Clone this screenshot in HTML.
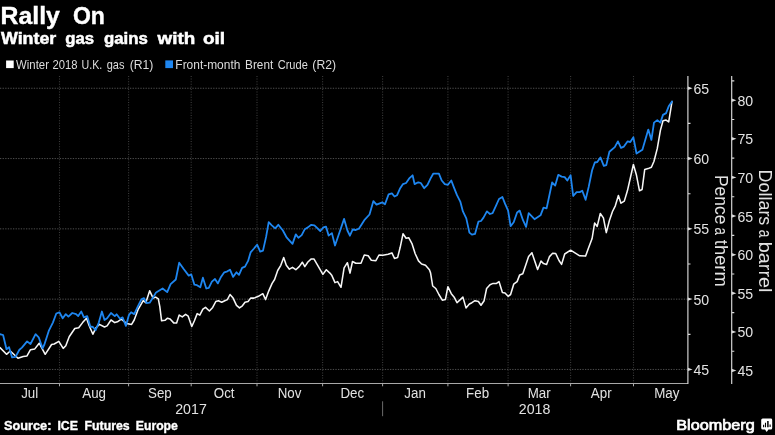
<!DOCTYPE html>
<html><head><meta charset="utf-8"><title>Rally On</title>
<style>html,body{margin:0;padding:0;background:#000;}body{width:775px;height:435px;overflow:hidden;}svg{will-change:transform;}</style></head>
<body>
<svg width="775" height="435" viewBox="0 0 775 435" style="display:block;font-family:'Liberation Sans',sans-serif">
<rect width="775" height="435" fill="#000"/>
<g>
<path d="M0,88.25 H687.9 M0,158.55 H687.9 M0,228.85 H687.9 M0,299.15 H687.9 M0,369.45 H687.9" stroke="#4e4e4e" stroke-width="1" stroke-dasharray="1.3 1.3" fill="none"/>
<path d="M59.5,76 V383.5 M128.6,76 V383.5 M191.2,76 V383.5 M257,76 V383.5 M322.6,76 V383.5 M382.6,76 V383.5 M447.9,76 V383.5 M508.1,76 V383.5 M570.6,76 V383.5 M633.5,76 V383.5" stroke="#3c3c3c" stroke-width="1.1" stroke-dasharray="1 1.6" fill="none"/>
<path d="M0,383.5 H687.9 M59.5,383.5 V386.3 M128.6,383.5 V386.3 M191.2,383.5 V386.3 M257,383.5 V386.3 M322.6,383.5 V386.3 M382.6,383.5 V386.3 M447.9,383.5 V386.3 M508.1,383.5 V386.3 M570.6,383.5 V386.3 M633.5,383.5 V386.3" stroke="#a8a8a8" stroke-width="1" fill="none"/>
<path d="M382.6,401.3 V416.2" stroke="#6a6a6a" stroke-width="1" fill="none"/>
<path d="M687.9,76 V384.0 M731.7,76 V384.0 M687.9,334.3 h2.6 M687.9,264.0 h2.6 M687.9,193.7 h2.6 M687.9,123.4 h2.6 M731.7,351.2 h2.6 M731.7,312.6 h2.6 M731.7,274.0 h2.6 M731.7,235.3 h2.6 M731.7,196.7 h2.6 M731.7,158.1 h2.6 M731.7,119.5 h2.6 M731.7,80.9 h2.6" stroke="#dadada" stroke-width="1.15" fill="none"/>
<text x="693.4" y="374.9" font-size="14.8" fill="#e2e2e2" textLength="15.7" lengthAdjust="spacingAndGlyphs">45</text>
<text x="693.4" y="304.6" font-size="14.8" fill="#e2e2e2" textLength="15.7" lengthAdjust="spacingAndGlyphs">50</text>
<text x="693.4" y="234.3" font-size="14.8" fill="#e2e2e2" textLength="15.7" lengthAdjust="spacingAndGlyphs">55</text>
<text x="693.4" y="164.0" font-size="14.8" fill="#e2e2e2" textLength="15.7" lengthAdjust="spacingAndGlyphs">60</text>
<text x="693.4" y="93.8" font-size="14.8" fill="#e2e2e2" textLength="15.7" lengthAdjust="spacingAndGlyphs">65</text>
<text x="737.4" y="376.0" font-size="14.8" fill="#e2e2e2" textLength="15.7" lengthAdjust="spacingAndGlyphs">45</text>
<text x="737.4" y="337.4" font-size="14.8" fill="#e2e2e2" textLength="15.7" lengthAdjust="spacingAndGlyphs">50</text>
<text x="737.4" y="298.8" font-size="14.8" fill="#e2e2e2" textLength="15.7" lengthAdjust="spacingAndGlyphs">55</text>
<text x="737.4" y="260.2" font-size="14.8" fill="#e2e2e2" textLength="15.7" lengthAdjust="spacingAndGlyphs">60</text>
<text x="737.4" y="221.5" font-size="14.8" fill="#e2e2e2" textLength="15.7" lengthAdjust="spacingAndGlyphs">65</text>
<text x="737.4" y="182.9" font-size="14.8" fill="#e2e2e2" textLength="15.7" lengthAdjust="spacingAndGlyphs">70</text>
<text x="737.4" y="144.3" font-size="14.8" fill="#e2e2e2" textLength="15.7" lengthAdjust="spacingAndGlyphs">75</text>
<text x="737.4" y="105.7" font-size="14.8" fill="#e2e2e2" textLength="15.7" lengthAdjust="spacingAndGlyphs">80</text>
<path d="M687.9,367.8 L692.6,369.4 L687.9,371.1Z M687.9,297.4 L692.6,299.1 L687.9,300.8Z M687.9,227.2 L692.6,228.8 L687.9,230.5Z M687.9,156.8 L692.6,158.5 L687.9,160.2Z M687.9,86.5 L692.6,88.2 L687.9,90.0Z M731.7,368.8 L736.4000000000001,370.5 L731.7,372.2Z M731.7,330.2 L736.4000000000001,331.9 L731.7,333.6Z M731.7,291.6 L736.4000000000001,293.3 L731.7,295.0Z M731.7,253.0 L736.4000000000001,254.7 L731.7,256.4Z M731.7,214.3 L736.4000000000001,216.0 L731.7,217.7Z M731.7,175.7 L736.4000000000001,177.4 L731.7,179.1Z M731.7,137.1 L736.4000000000001,138.8 L731.7,140.5Z M731.7,98.5 L736.4000000000001,100.2 L731.7,101.9Z" fill="#dadada"/>
<path d="M0.0,347.6 L6.5,354.3 L10.3,351.0 L18.0,358.2 L23.2,356.4 L27.0,355.9 L30.5,349.7 L34.8,348.9 L39.2,343.2 L45.2,354.3 L51.6,344.5 L54.2,344.0 L58.8,341.4 L63.2,348.4 L65.8,345.8 L69.2,336.8 L74.8,328.5 L78.7,327.7 L82.6,322.6 L86.5,318.2 L89.0,325.2 L92.9,334.2 L96.0,327.7 L99.4,324.4 L104.5,327.0 L107.1,325.9 L111.0,320.0 L114.8,322.6 L117.4,321.8 L121.3,319.2 L126.5,323.4 L131.6,324.4 L134.2,320.0 L138.0,309.7 L143.2,300.6 L145.8,302.7 L149.7,290.8 L153.1,298.1 L155.7,297.1 L158.3,298.9 L159.8,306.6 L161.6,320.8 L165.0,320.3 L167.5,318.2 L170.1,319.0 L173.7,322.9 L176.6,322.9 L179.2,315.1 L182.3,316.9 L185.6,314.4 L188.2,316.2 L191.8,326.5 L194.4,320.8 L197.2,313.6 L199.8,315.1 L202.9,309.2 L205.5,307.4 L209.4,311.0 L212.7,307.4 L215.8,301.5 L218.4,300.7 L221.7,302.2 L224.8,300.7 L227.4,299.6 L230.0,294.5 L233.1,298.1 L236.5,305.3 L239.5,307.9 L242.4,305.8 L245.0,302.2 L248.1,301.5 L250.6,298.1 L254.0,298.1 L258.4,296.3 L262.8,293.7 L265.6,299.6 L268.7,291.1 L272.1,283.4 L274.6,279.5 L277.7,270.5 L280.8,265.3 L283.7,257.6 L286.3,265.3 L289.4,269.2 L292.5,267.4 L295.8,269.7 L299.2,266.6 L302.3,262.2 L304.8,266.6 L307.9,262.0 L311.3,258.9 L313.9,258.9 L317.7,265.3 L322.9,274.4 L326.3,269.7 L329.9,273.1 L331.9,275.6 L335.0,282.6 L337.6,281.6 L341.0,287.3 L344.1,267.9 L347.4,262.7 L350.0,273.1 L352.5,261.5 L355.8,263.3 L361.0,263.3 L364.3,255.0 L368.2,255.8 L371.3,260.2 L375.9,260.7 L379.0,255.0 L382.9,255.3 L388.1,254.2 L391.9,252.9 L394.5,258.4 L397.6,257.6 L400.2,247.3 L403.0,233.8 L406.1,238.2 L408.7,237.7 L412.1,243.9 L415.2,253.7 L418.5,260.9 L421.6,264.0 L425.5,265.3 L429.4,269.7 L430.6,273.1 L432.7,286.0 L435.8,288.5 L438.9,294.5 L442.3,300.2 L445.4,299.6 L447.9,286.7 L451.3,293.7 L454.4,297.6 L457.0,302.7 L460.3,299.6 L462.9,297.1 L466.0,307.9 L469.4,304.0 L471.9,302.7 L475.0,300.7 L478.4,301.5 L481.0,305.3 L484.1,300.7 L486.6,288.5 L490.0,284.7 L493.1,283.4 L496.5,283.4 L499.0,281.6 L502.4,292.4 L505.0,292.9 L508.1,296.3 L510.6,294.5 L513.7,284.2 L517.1,281.6 L519.7,274.9 L522.8,273.8 L526.1,264.0 L528.6,256.6 L531.9,252.7 L537.6,269.5 L541.0,261.0 L543.5,263.6 L546.6,264.4 L549.5,256.6 L552.6,253.3 L555.7,253.5 L559.0,260.5 L561.6,264.4 L564.7,254.0 L570.6,250.2 L579.7,255.8 L585.6,256.1 L588.7,247.6 L592.1,238.5 L594.6,223.1 L597.2,226.4 L600.3,213.5 L603.4,217.9 L606.3,232.6 L609.4,220.5 L612.5,211.5 L615.3,205.8 L618.4,195.5 L621.0,203.2 L624.3,201.1 L627.4,190.8 L633.4,164.5 L636.5,175.3 L639.5,190.8 L642.1,189.5 L644.7,169.6 L648.1,168.6 L651.4,167.2 L654.0,161.3 L657.3,148.4 L660.4,130.4 L663.0,120.8 L666.1,120.1 L668.7,121.9 L672.0,101.5" stroke="#f6f6f6" stroke-width="1.55" fill="none" stroke-linejoin="round" stroke-linecap="round"/>
<path d="M0.0,334.2 L3.1,335.0 L6.5,349.2 L9.0,347.1 L12.1,357.4 L15.5,356.9 L19.4,349.7 L21.9,347.6 L27.1,341.4 L30.5,344.0 L35.6,334.2 L38.7,337.3 L42.6,348.4 L44.4,344.5 L49.0,330.3 L52.9,322.6 L56.3,313.5 L59.4,312.3 L62.7,318.2 L65.8,314.1 L68.4,316.6 L72.3,313.0 L76.1,314.1 L78.2,316.1 L81.3,311.5 L83.9,317.4 L87.2,316.1 L90.3,326.5 L92.9,327.0 L95.5,330.3 L98.8,322.6 L101.9,311.5 L104.5,320.0 L107.1,318.2 L111.0,313.0 L114.8,316.1 L116.6,314.3 L120.0,318.7 L122.6,317.4 L125.9,325.9 L129.0,314.8 L131.1,312.3 L134.2,314.1 L138.1,305.8 L141.4,299.4 L144.0,298.1 L146.6,303.2 L149.7,302.7 L153.5,296.8 L156.1,292.4 L162.6,288.5 L167.2,292.1 L170.6,284.2 L175.8,279.5 L179.2,262.7 L183.5,268.7 L188.7,275.6 L191.3,274.4 L194.4,284.7 L197.0,285.2 L200.3,287.3 L202.9,277.7 L206.3,288.5 L208.8,287.8 L211.9,281.6 L215.0,279.0 L217.9,283.4 L221.0,276.9 L224.3,272.3 L227.4,271.3 L230.0,269.7 L233.1,276.9 L236.5,272.3 L239.0,274.9 L242.1,267.9 L245.0,266.6 L248.1,260.9 L250.6,252.4 L254.0,248.5 L257.1,244.7 L260.2,251.6 L263.0,250.6 L266.1,236.9 L268.7,222.2 L271.8,225.3 L275.2,228.4 L278.3,224.8 L282.9,230.5 L286.8,237.7 L292.5,243.9 L295.8,234.4 L298.4,237.7 L301.7,235.1 L304.8,229.2 L307.9,227.4 L311.3,224.8 L314.4,225.3 L320.3,231.0 L323.4,227.4 L326.0,226.6 L328.6,235.6 L331.9,233.1 L335.0,245.5 L339.7,231.8 L344.1,218.9 L347.4,230.5 L349.9,235.7 L352.7,229.5 L355.8,230.0 L358.9,228.7 L364.3,220.2 L369.5,214.5 L373.4,201.1 L376.5,204.7 L382.4,202.4 L385.0,204.2 L388.6,194.4 L391.9,193.4 L394.5,196.5 L397.1,195.2 L400.2,188.2 L403.0,184.1 L406.1,183.0 L409.2,178.4 L412.6,175.3 L414.6,184.1 L418.3,182.3 L420.8,183.0 L424.2,188.2 L427.5,184.8 L430.6,178.4 L433.2,173.7 L438.9,173.7 L441.7,180.5 L444.8,184.1 L447.9,184.8 L451.3,180.5 L453.9,187.4 L457.0,195.2 L460.3,201.6 L462.9,211.4 L466.3,218.4 L469.4,232.6 L471.9,234.6 L475.0,233.9 L478.4,221.7 L481.0,221.0 L483.5,217.6 L486.9,211.4 L490.0,214.0 L492.6,213.2 L495.7,206.3 L499.0,199.0 L502.4,197.0 L505.0,203.7 L508.1,210.6 L510.6,226.1 L513.7,222.3 L517.1,212.5 L519.7,210.6 L523.0,220.2 L526.1,226.9 L528.7,213.2 L534.5,219.2 L540.5,215.3 L543.5,207.6 L546.6,208.4 L552.1,182.5 L555.2,185.6 L558.3,174.8 L561.6,176.6 L564.7,177.1 L567.3,180.5 L570.6,175.3 L573.2,196.0 L576.6,192.1 L579.7,192.1 L582.3,190.8 L585.6,199.8 L588.7,186.9 L592.1,170.2 L594.8,162.5 L597.3,162.0 L600.4,157.4 L603.8,165.9 L606.3,165.1 L609.4,151.7 L614.8,147.1 L617.9,141.4 L621.0,147.9 L623.9,146.6 L627.5,141.4 L630.3,142.0 L633.4,137.3 L636.5,153.5 L642.4,149.7 L648.3,129.6 L651.4,139.9 L654.0,122.6 L657.3,120.1 L660.4,122.6 L663.0,114.9 L666.1,113.1 L668.9,105.9 L672.0,101.5" stroke="#1e86f0" stroke-width="1.8" fill="none" stroke-linejoin="round" stroke-linecap="round"/>
<text x="0.6" y="23.5" font-size="23.4" font-weight="bold" fill="#fff" stroke="#fff" stroke-width="0.4" textLength="59.26" lengthAdjust="spacingAndGlyphs">Rally</text>
<text x="72.99" y="23.5" font-size="23.4" font-weight="bold" fill="#fff" stroke="#fff" stroke-width="0.4" textLength="31.9" lengthAdjust="spacingAndGlyphs">On</text>
<text x="0.97" y="43.75" font-size="16.4" font-weight="bold" fill="#fff" stroke="#fff" stroke-width="0.5" textLength="55.3" lengthAdjust="spacingAndGlyphs">Winter</text>
<text x="65.3" y="43.75" font-size="16.4" font-weight="bold" fill="#fff" stroke="#fff" stroke-width="0.5" textLength="28.87" lengthAdjust="spacingAndGlyphs">gas</text>
<text x="103.9" y="43.75" font-size="16.4" font-weight="bold" fill="#fff" stroke="#fff" stroke-width="0.5" textLength="44.0" lengthAdjust="spacingAndGlyphs">gains</text>
<text x="157.63" y="43.75" font-size="16.4" font-weight="bold" fill="#fff" stroke="#fff" stroke-width="0.5" textLength="37.66" lengthAdjust="spacingAndGlyphs">with</text>
<text x="202.9" y="43.75" font-size="16.4" font-weight="bold" fill="#fff" stroke="#fff" stroke-width="0.5" textLength="22.2" lengthAdjust="spacingAndGlyphs">oil</text>
<rect x="6.1" y="60.5" width="7.6" height="7.6" fill="#fff"/>
<text x="16.1" y="68.9" font-size="12.4" fill="#dcdcdc" textLength="32.84" lengthAdjust="spacingAndGlyphs">Winter</text>
<text x="52.6" y="68.9" font-size="12.4" fill="#dcdcdc" textLength="25.0" lengthAdjust="spacingAndGlyphs">2018</text>
<text x="81.55" y="68.9" font-size="12.4" fill="#dcdcdc" textLength="20.8" lengthAdjust="spacingAndGlyphs">U.K.</text>
<text x="106.7" y="68.9" font-size="12.4" fill="#dcdcdc" textLength="17.7" lengthAdjust="spacingAndGlyphs">gas</text>
<text x="129.68" y="68.9" font-size="12.4" fill="#dcdcdc" textLength="23.75" lengthAdjust="spacingAndGlyphs">(R1)</text>
<text x="175.35" y="68.9" font-size="12.4" fill="#dcdcdc" textLength="65.0" lengthAdjust="spacingAndGlyphs">Front-month</text>
<text x="245.1" y="68.9" font-size="12.4" fill="#dcdcdc" textLength="28.1" lengthAdjust="spacingAndGlyphs">Brent</text>
<text x="277.7" y="68.9" font-size="12.4" fill="#dcdcdc" textLength="30.1" lengthAdjust="spacingAndGlyphs">Crude</text>
<text x="312.37" y="68.9" font-size="12.4" fill="#dcdcdc" textLength="23.65" lengthAdjust="spacingAndGlyphs">(R2)</text>
<rect x="165.3" y="60.4" width="7.7" height="7.7" fill="#1e86f0"/>
<text transform="translate(29.7,397.8) scale(0.89,1)" font-size="15" fill="#e2e2e2" text-anchor="middle">Jul</text>
<text transform="translate(94.1,397.8) scale(0.89,1)" font-size="15" fill="#e2e2e2" text-anchor="middle">Aug</text>
<text transform="translate(159.9,397.8) scale(0.89,1)" font-size="15" fill="#e2e2e2" text-anchor="middle">Sep</text>
<text transform="translate(224.2,397.8) scale(0.89,1)" font-size="15" fill="#e2e2e2" text-anchor="middle">Oct</text>
<text transform="translate(289.5,397.8) scale(0.89,1)" font-size="15" fill="#e2e2e2" text-anchor="middle">Nov</text>
<text transform="translate(352.3,397.8) scale(0.89,1)" font-size="15" fill="#e2e2e2" text-anchor="middle">Dec</text>
<text transform="translate(415.1,397.8) scale(0.89,1)" font-size="15" fill="#e2e2e2" text-anchor="middle">Jan</text>
<text transform="translate(477.6,397.8) scale(0.89,1)" font-size="15" fill="#e2e2e2" text-anchor="middle">Feb</text>
<text transform="translate(539.2,397.8) scale(0.89,1)" font-size="15" fill="#e2e2e2" text-anchor="middle">Mar</text>
<text transform="translate(601.2,397.8) scale(0.89,1)" font-size="15" fill="#e2e2e2" text-anchor="middle">Apr</text>
<text transform="translate(666.8,397.8) scale(0.89,1)" font-size="15" fill="#e2e2e2" text-anchor="middle">May</text>
<text transform="translate(191,413.9) scale(0.94,1)" font-size="15.1" fill="#e2e2e2" text-anchor="middle">2017</text>
<text transform="translate(534.6,413.9) scale(0.94,1)" font-size="15.1" fill="#e2e2e2" text-anchor="middle">2018</text>
<text transform="translate(715.3,174.9) rotate(90)" font-size="18" fill="#e2e2e2" textLength="49.67" lengthAdjust="spacingAndGlyphs">Pence</text>
<text transform="translate(715.3,227.5) rotate(90)" font-size="18" fill="#e2e2e2" textLength="7.41" lengthAdjust="spacingAndGlyphs">a</text>
<text transform="translate(715.3,239.8) rotate(90)" font-size="18" fill="#e2e2e2" textLength="47.02" lengthAdjust="spacingAndGlyphs">therm</text>
<text transform="translate(759.3,169.6) rotate(90)" font-size="18" fill="#e2e2e2" textLength="55.73" lengthAdjust="spacingAndGlyphs">Dollars</text>
<text transform="translate(759.3,229.7) rotate(90)" font-size="18" fill="#e2e2e2" textLength="7.7" lengthAdjust="spacingAndGlyphs">a</text>
<text transform="translate(759.3,241.7) rotate(90)" font-size="18" fill="#e2e2e2" textLength="50.85" lengthAdjust="spacingAndGlyphs">barrel</text>
<text x="3.9" y="430.2" font-size="12" font-weight="bold" fill="#fff" stroke="#fff" stroke-width="0.35" textLength="47.5" lengthAdjust="spacingAndGlyphs">Source:</text>
<text x="57.4" y="430.2" font-size="12" font-weight="bold" fill="#fff" stroke="#fff" stroke-width="0.35" textLength="20.5" lengthAdjust="spacingAndGlyphs">ICE</text>
<text x="84.5" y="430.2" font-size="12" font-weight="bold" fill="#fff" stroke="#fff" stroke-width="0.35" textLength="45.15" lengthAdjust="spacingAndGlyphs">Futures</text>
<text x="135.8" y="430.2" font-size="12" font-weight="bold" fill="#fff" stroke="#fff" stroke-width="0.35" textLength="42.09" lengthAdjust="spacingAndGlyphs">Europe</text>
<text x="676.27" y="429.5" font-size="15.2" fill="#fff" stroke="#fff" stroke-width="0.7" textLength="78.54" lengthAdjust="spacingAndGlyphs">Bloomberg</text>
<path d="M762.7,418.5 h8 a1.5,1.5 0 0 1 1.5,1.5 v8 a1.5,1.5 0 0 1 -1.5,1.5 h-2.3 l-1.7,2.4 l-1.7,-2.4 h-2.3 a1.5,1.5 0 0 1 -1.5,-1.5 v-8 a1.5,1.5 0 0 1 1.5,-1.5z" fill="#fff"/>
<path d="M763.6,424.8 v2.4 M765.5,422.8 v4.4 M770.1,424.6 v2.5" stroke="#000" stroke-width="1.1" fill="none"/><path d="M767.9,421 v6.3" stroke="#000" stroke-width="1.5" fill="none"/>
</g>
</svg>
</body></html>
